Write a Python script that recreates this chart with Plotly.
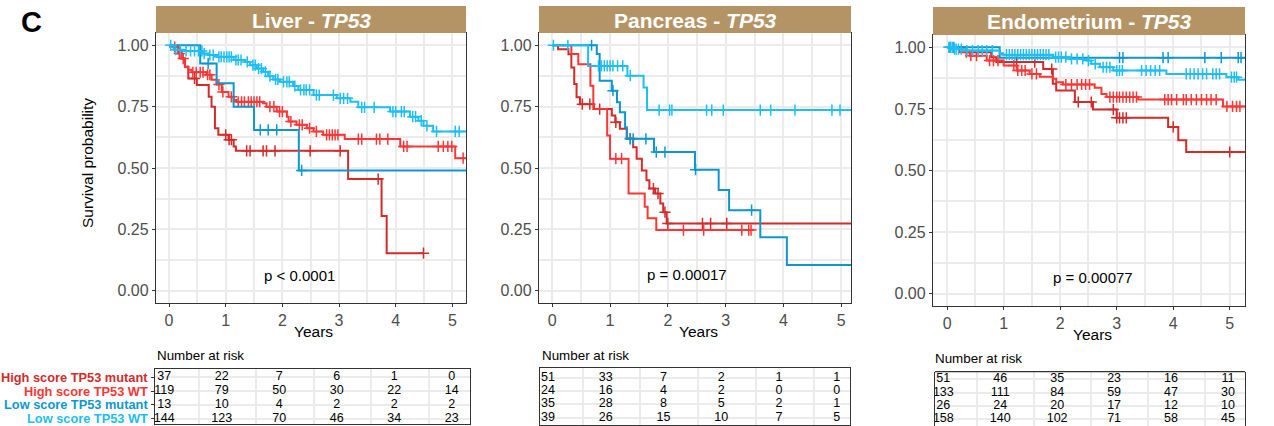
import numpy as np
import plotly.graph_objects as go

W, H = 1274, 426
FONT = "Liberation Sans, Arial, Helvetica, sans-serif"

GROUPS = ["High score TP53 mutant", "High score TP53 WT",
          "Low score TP53 mutant", "Low score TP53 WT"]
COLORS = ["#D12B2B", "#FA3636", "#0E97CE", "#1DBEF4"]
YEARS = [0, 1, 2, 3, 4, 5]
Y_TICKS = [0, 0.25, 0.5, 0.75, 1.0]
Y_TICK_TEXT = ["0.00", "0.25", "0.50", "0.75", "1.00"]
PANELS = ["Liver", "Pancreas", "Endometrium"]
PVALUES = ["p < 0.0001", "p = 0.00017", "p = 0.00077"]

# ---------------- Liver ----------------
LIV_HM_T = [0, 0.08, 0.16, 0.22, 0.28, 0.34, 0.49, 0.70, 0.75, 0.81, 0.87, 1.05, 1.14, 1.18, 3.16, 3.75, 3.84]
LIV_HM_S = [1.0, 0.993, 0.98, 0.946, 0.912, 0.865, 0.838, 0.79, 0.75, 0.662, 0.635, 0.615, 0.588, 0.57, 0.455, 0.304, 0.153]
LIV_HM_C = [0.45, 1.0, 1.06, 1.10, 1.37, 1.43, 1.66, 1.72, 1.87, 2.49, 3.02, 3.69, 4.49]
LIV_HM_END = 4.49

LIV_HW_T = [0, 0.08, 0.16, 0.22, 0.28, 0.34, 0.40, 0.66, 0.75, 0.84, 0.93, 1.05, 1.14, 1.19, 1.66, 1.72, 1.90, 2.08, 2.11, 2.25, 2.43, 2.55, 2.72, 3.10, 4.08, 5.05]
LIV_HW_S = [1.0, 0.993, 0.966, 0.946, 0.912, 0.90, 0.89, 0.88, 0.86, 0.84, 0.81, 0.79, 0.777, 0.77, 0.764, 0.75, 0.73, 0.709, 0.689, 0.676, 0.662, 0.649, 0.635, 0.618, 0.588, 0.54]
LIV_HW_C = [0.1, 0.18, 0.25, 0.42, 0.48, 0.55, 0.6, 0.68, 0.72, 0.88, 0.95, 1.1, 1.22, 1.28, 1.33, 1.4, 1.45, 1.5, 1.55,
            1.6, 1.78, 1.85, 1.95, 2.0, 2.15, 2.3, 2.35, 2.48, 2.6, 2.78, 2.83, 2.88, 2.93, 2.98, 3.34, 3.4, 3.66,
            3.72, 3.86, 4.14, 4.2, 4.75, 4.84, 4.92, 4.99, 5.19]
LIV_HW_END = 5.4

LIV_LM_T = [0, 0.55, 0.84, 1.14, 1.50, 2.29]
LIV_LM_S = [1.0, 0.926, 0.845, 0.75, 0.655, 0.49]
LIV_LM_C = [0.69, 1.61, 1.75, 1.90, 2.34]
LIV_LM_END = 5.4

LIV_LW_T = [0, 0.08, 0.25, 0.60, 0.69, 0.84, 1.14, 1.34, 1.43, 1.55, 1.66, 1.75, 1.84, 1.96, 2.19, 2.28, 2.55, 2.96, 3.20, 3.34, 3.90, 4.25, 4.40, 4.49, 4.66]
LIV_LW_S = [1.0, 0.982, 0.977, 0.966, 0.96, 0.953, 0.94, 0.932, 0.919, 0.905, 0.892, 0.874, 0.861, 0.851, 0.834, 0.818, 0.797, 0.784, 0.77, 0.747, 0.73, 0.709, 0.693, 0.672, 0.649]
LIV_LW_C = [0.03, 0.12, 0.2, 0.3, 0.38, 0.45, 0.52, 0.58, 0.62, 0.72, 0.78, 0.88, 0.92, 0.97, 1.02, 1.06, 1.1, 1.18,
            1.22, 1.27, 1.38, 1.48, 1.52, 1.58, 1.63, 1.7, 1.78, 1.88, 1.92, 2.02, 2.08, 2.12, 2.22, 2.32, 2.38,
            2.42, 2.48, 2.6, 2.65, 2.9, 3.02, 3.08, 3.15, 3.4, 3.45, 3.62, 3.95, 4.0, 4.1, 4.15, 4.3, 4.35, 4.45,
            4.55, 4.72, 5.05, 5.12]
LIV_LW_END = 5.4

# ---------------- Pancreas ----------------
PAN_HM_T = [0, 0.10, 0.28, 0.33, 0.38, 0.42, 0.48, 0.72, 1.03, 1.09, 1.17, 1.29, 1.40, 1.46, 1.55, 1.63, 1.68, 1.78, 1.87, 1.92, 1.98]
PAN_HM_S = [1.0, 0.984, 0.963, 0.909, 0.842, 0.788, 0.76, 0.74, 0.714, 0.686, 0.66, 0.62, 0.585, 0.538, 0.49, 0.45, 0.416, 0.396, 0.355, 0.32, 0.274]
PAN_HM_C = [0.52, 0.65, 0.82, 1.10, 1.35, 1.75, 1.83, 1.95, 2.00, 2.60, 2.74, 3.02]
PAN_HM_END = 5.4

PAN_HW_T = [0, 0.33, 0.45, 0.66, 0.71, 0.95, 1.00, 1.32, 1.60, 1.65, 1.80]
PAN_HW_S = [1.0, 0.964, 0.923, 0.835, 0.74, 0.632, 0.538, 0.396, 0.342, 0.295, 0.247]
PAN_HW_C = [1.10, 1.20, 2.27, 2.62, 3.28, 3.40, 3.44]
PAN_HW_END = 3.44

PAN_LM_T = [0, 0.77, 0.82, 1.03, 1.12, 1.17, 1.26, 1.29, 1.76, 2.47, 2.88, 3.06, 3.60, 4.06]
PAN_LM_S = [1.0, 0.964, 0.855, 0.815, 0.768, 0.727, 0.666, 0.619, 0.565, 0.493, 0.41, 0.328, 0.218, 0.105]
PAN_LM_C = [0.68, 1.05, 1.35, 1.40, 1.62, 1.80, 1.95, 2.48, 3.45]
PAN_LM_END = 5.4

PAN_LW_T = [0, 0.62, 1.30, 1.58, 1.64]
PAN_LW_S = [1.0, 0.916, 0.876, 0.828, 0.736]
PAN_LW_C = [0.02, 0.27, 0.80, 0.85, 0.90, 0.95, 1.00, 1.05, 1.13, 1.22, 1.35, 1.85, 2.03, 2.07, 2.67, 2.76,
            2.96, 3.60, 3.78, 4.20, 4.84, 4.98]
PAN_LW_END = 5.4

# ---------------- Endometrium ----------------
END_HM_T = [0, 0.34, 0.78, 0.87, 1.70, 1.87, 1.93, 2.26, 2.58, 3.00, 3.91, 4.09, 4.23]
END_HM_S = [1.0, 0.98, 0.96, 0.94, 0.912, 0.852, 0.825, 0.778, 0.748, 0.714, 0.677, 0.623, 0.575]
END_HM_C = [1.23, 1.55, 1.85, 2.32, 2.55, 2.94, 3.0, 3.05, 3.11, 3.17, 4.0, 5.0]
END_HM_END = 5.4

END_HW_T = [0, 0.22, 0.40, 0.70, 1.00, 1.23, 1.46, 1.64, 1.87, 1.93, 2.05, 2.61, 2.73, 2.82, 3.38, 4.88]
END_HW_S = [1.0, 0.98, 0.966, 0.946, 0.926, 0.906, 0.892, 0.881, 0.872, 0.858, 0.849, 0.836, 0.811, 0.798, 0.788, 0.76]
END_HW_C = [0.34, 0.42, 0.52, 0.75, 0.82, 0.9, 1.18, 1.25, 1.32, 1.38, 1.5, 1.58, 2.1, 2.2, 2.3, 2.38, 2.45, 2.52,
            2.88, 2.94, 3.0, 3.05, 3.11, 3.17, 3.23, 3.29, 3.35, 3.85, 3.91, 3.97, 4.06, 4.18, 4.23, 4.32, 4.41,
            4.5, 4.59, 4.67, 4.76, 4.95, 5.05, 5.12, 5.18]
END_HW_END = 5.4

END_LM_T = [0, 0.93]
END_LM_S = [1.0, 0.958]
END_LM_C = [0.05, 0.12, 3.05, 3.11, 3.82, 3.91, 4.56, 4.85, 5.15, 5.2]
END_LM_END = 5.4

END_LW_T = [0, 0.10, 0.28, 0.93, 0.99, 1.87, 2.17, 2.46, 2.55, 2.70, 2.94, 3.88, 4.94, 5.15]
END_LW_S = [1.0, 0.993, 0.987, 0.976, 0.97, 0.96, 0.953, 0.946, 0.933, 0.919, 0.906, 0.892, 0.879, 0.868]
END_LW_C = [0.03, 0.06, 0.09, 0.13, 0.16, 0.2, 0.25, 0.35, 0.45, 0.55, 0.62, 0.7, 0.8, 1.05, 1.1, 1.15, 1.2, 1.25,
            1.3, 1.35, 1.4, 1.45, 1.5, 1.55, 1.6, 1.65, 1.7, 1.75, 1.8, 1.92, 1.97, 2.02, 2.1, 2.2, 2.3, 2.4, 2.5,
            2.62, 2.76, 2.82, 2.88, 3.0, 3.05, 3.1, 3.44, 3.52, 3.6, 3.68, 3.76, 4.23, 4.3, 4.37, 4.44, 4.52,
            4.59, 4.7, 4.76, 4.82, 5.03, 5.08, 5.12]
END_LW_END = 5.4

# ---------------- Numbers at risk ----------------
LIV_RISK_HM = [37, 22, 7, 6, 1, 0]
LIV_RISK_HW = [119, 79, 50, 30, 22, 14]
LIV_RISK_LM = [13, 10, 4, 2, 2, 2]
LIV_RISK_LW = [144, 123, 70, 46, 34, 23]
PAN_RISK_HM = [51, 33, 7, 2, 1, 1]
PAN_RISK_HW = [24, 16, 4, 2, 0, 0]
PAN_RISK_LM = [35, 28, 8, 5, 2, 1]
PAN_RISK_LW = [39, 26, 15, 10, 7, 5]
END_RISK_HM = [51, 46, 35, 23, 16, 11]
END_RISK_HW = [133, 111, 84, 59, 47, 30]
END_RISK_LM = [26, 24, 20, 17, 12, 10]
END_RISK_LW = [158, 140, 102, 71, 58, 45]

CURVES = [
    [(LIV_HM_T, LIV_HM_S, LIV_HM_C, LIV_HM_END), (LIV_HW_T, LIV_HW_S, LIV_HW_C, LIV_HW_END),
     (LIV_LM_T, LIV_LM_S, LIV_LM_C, LIV_LM_END), (LIV_LW_T, LIV_LW_S, LIV_LW_C, LIV_LW_END)],
    [(PAN_HM_T, PAN_HM_S, PAN_HM_C, PAN_HM_END), (PAN_HW_T, PAN_HW_S, PAN_HW_C, PAN_HW_END),
     (PAN_LM_T, PAN_LM_S, PAN_LM_C, PAN_LM_END), (PAN_LW_T, PAN_LW_S, PAN_LW_C, PAN_LW_END)],
    [(END_HM_T, END_HM_S, END_HM_C, END_HM_END), (END_HW_T, END_HW_S, END_HW_C, END_HW_END),
     (END_LM_T, END_LM_S, END_LM_C, END_LM_END), (END_LW_T, END_LW_S, END_LW_C, END_LW_END)],
]
RISKS = [
    [LIV_RISK_HM, LIV_RISK_HW, LIV_RISK_LM, LIV_RISK_LW],
    [PAN_RISK_HM, PAN_RISK_HW, PAN_RISK_LM, PAN_RISK_LW],
    [END_RISK_HM, END_RISK_HW, END_RISK_LM, END_RISK_LW],
]

# ---------------- Layout geometry (pixels) ----------------
PLOT_BOX = [(156, 466, 33, 303), (539, 851, 33, 303), (933, 1245, 35, 306)]
STRIP_BOX = [(156, 466, 6, 33), (539, 851, 6, 33), (933, 1245, 7, 35)]
X_RANGES = [(-0.23, 5.24), (-0.23, 5.17), (-0.25, 5.27)]
Y_RANGE = (-0.05, 1.05)
TABLE_BOX = [(155, 470, 369, 424.3), (540, 850, 368.3, 425), (935, 1245, 371.7, 426)]
TABLE_XR = [(-0.16, 5.318), (-0.139, 5.23), (-0.146, 5.30)]
TABLE_YR = [(0.594, 4.60), (0.45, 4.70), (0.47, 4.576)]
NAR_POS = [(155, 355), (540, 355), (933, 358)]
PVAL_XY = [(2.31, 0.061), (2.34, 0.065), (2.58, 0.067)]
YEARS_X = [313, 698, 1092]


def fx(p):
    return p / W


def fy(p):
    return 1 - p / H


fig = go.Figure()
layout = dict(width=W, height=H, margin=dict(l=0, r=0, t=0, b=0),
              paper_bgcolor="white", plot_bgcolor="white", showlegend=False,
              font=dict(family=FONT, color="black"))
shapes = []
annotations = []

GRID = "#EBEBEB"
GW = 1.8
TICKFONT = dict(size=16, color="#4D4D4D", family=FONT)

for i in range(3):
    ax = i + 1
    xa, ya = f"x{ax}", f"y{ax}"
    x0, x1, y0, y1 = PLOT_BOX[i]
    layout[f"xaxis{ax}"] = dict(
        domain=[fx(x0), fx(x1)], range=list(X_RANGES[i]), anchor=ya,
        tickvals=YEARS, ticktext=[str(v) for v in YEARS],
        ticks="outside", ticklen=3, tickwidth=1.1, tickcolor="#333333",
        tickfont=TICKFONT,
        showgrid=True, gridcolor=GRID, gridwidth=GW,
        minor=dict(tickvals=[v + 0.5 for v in YEARS[:-1]], showgrid=True, gridcolor=GRID, gridwidth=GW, ticks=""),
        showline=True, mirror=True, linecolor="#333333", linewidth=1.3, zeroline=False)
    layout[f"yaxis{ax}"] = dict(
        domain=[fy(y1), fy(y0)], range=list(Y_RANGE), anchor=xa,
        tickvals=Y_TICKS, ticktext=Y_TICK_TEXT,
        ticks="outside", ticklen=3, tickwidth=1.1, tickcolor="#333333",
        tickfont=TICKFONT,
        showgrid=True, gridcolor=GRID, gridwidth=GW,
        minor=dict(tickvals=[0.125, 0.375, 0.625, 0.875], showgrid=True, gridcolor=GRID, gridwidth=GW, ticks=""),
        showline=True, mirror=True, linecolor="#333333", linewidth=1.3, zeroline=False)

    for g in range(4):
        t, s, c, end = CURVES[i][g]
        col = COLORS[g]
        fig.add_trace(go.Scatter(x=list(t) + [end], y=list(s) + [s[-1]], mode="lines",
                                 line=dict(color=col, width=2, shape="hv"),
                                 xaxis=xa, yaxis=ya, hoverinfo="skip"))
        ta = np.array(t)
        sa = np.array(s)
        ca = np.array(c)
        idx = np.searchsorted(ta, ca, side="right") - 1
        fig.add_trace(go.Scatter(x=ca, y=sa[idx], mode="markers",
                                 marker=dict(symbol="cross-thin", size=8, color=col,
                                             line=dict(width=1.5, color=col)),
                                 xaxis=xa, yaxis=ya, hoverinfo="skip"))

    # strip
    sx0, sx1, sy0, sy1 = STRIP_BOX[i]
    shapes.append(dict(type="rect", xref="paper", yref="paper", x0=fx(sx0), x1=fx(sx1),
                       y0=fy(sy1), y1=fy(sy0), fillcolor="#B49465", line=dict(width=0), layer="above"))
    annotations.append(dict(xref="paper", yref="paper", x=fx((sx0 + sx1) / 2), y=fy((sy0 + sy1) / 2 + 1),
                            text=f"<b>{PANELS[i]} - <i>TP53</i></b>", showarrow=False,
                            xanchor="center", yanchor="middle",
                            font=dict(size=21, color="white", family=FONT)))
    # p-value
    px_, py_ = PVAL_XY[i]
    annotations.append(dict(xref=xa, yref=ya, x=px_, y=py_, text=PVALUES[i], showarrow=False,
                            xanchor="center", yanchor="middle", font=dict(size=15, color="black", family=FONT)))
    # Years label
    annotations.append(dict(xref="paper", yref="paper", x=fx(YEARS_X[i]), y=fy(331 + (y1 - 303)),
                            text="Years", showarrow=False, xanchor="center", yanchor="middle",
                            font=dict(size=15.5, color="black", family=FONT)))

    # risk table
    tx = i + 4
    txa, tya = f"x{tx}", f"y{tx}"
    bx0, bx1, by0, by1 = TABLE_BOX[i]
    layout[f"xaxis{tx}"] = dict(
        domain=[fx(bx0), fx(bx1)], range=list(TABLE_XR[i]), anchor=tya,
        tickvals=[v + 0.6 for v in YEARS[:-1]], showticklabels=False, ticks="",
        showgrid=True, gridcolor=GRID, gridwidth=GW, zeroline=False,
        showline=(i < 2), mirror=True, linecolor="#333333", linewidth=1.3)
    layout[f"yaxis{tx}"] = dict(
        domain=[max(0, fy(by1)), fy(by0)], range=list(TABLE_YR[i]), anchor=txa,
        tickvals=[1, 2, 3, 4], showticklabels=False,
        ticks="outside" if i == 0 else "", ticklen=3, tickwidth=1.1, tickcolor="#333333",
        showgrid=True, gridcolor=GRID, gridwidth=GW, zeroline=False,
        showline=True, mirror=True, linecolor="#333333", linewidth=1.3)
    if i == 2:
        shapes.append(dict(type="line", xref="paper", yref="paper", x0=fx(bx0), x1=fx(bx1),
                           y0=fy(by0), y1=fy(by0), line=dict(color="#333333", width=1.3)))
    for g in range(4):
        row = 4 - g
        fig.add_trace(go.Scatter(x=YEARS, y=[row] * len(YEARS), mode="text",
                                 text=[str(v) for v in RISKS[i][g]],
                                 textfont=dict(size=12.5, color="black", family=FONT),
                                 xaxis=txa, yaxis=tya, hoverinfo="skip", cliponaxis=True))
    nx, ny = NAR_POS[i]
    annotations.append(dict(xref="paper", yref="paper", x=fx(nx), y=fy(ny), text="Number at risk",
                            showarrow=False, xanchor="left", yanchor="middle",
                            font=dict(size=13.4, color="black", family=FONT)))

# group labels next to first risk table
for g in range(4):
    annotations.append(dict(xref="paper", yref="y4", x=fx(150), y=4 - g,
                            text=f"<b>{GROUPS[g]}</b>", showarrow=False,
                            xanchor="right", yanchor="middle",
                            font=dict(size=12.8, color=COLORS[g], family=FONT)))

# y-axis title & panel letter
annotations.append(dict(xref="paper", yref="paper", x=fx(87), y=fy(163), text="Survival probability",
                        textangle=-90, showarrow=False, xanchor="center", yanchor="middle",
                        font=dict(size=15.5, color="black", family=FONT)))
annotations.append(dict(xref="paper", yref="paper", x=fx(31), y=fy(22), text="<b>C</b>",
                        showarrow=False, xanchor="center", yanchor="middle",
                        font=dict(size=29, color="black", family=FONT)))

layout["shapes"] = shapes
layout["annotations"] = annotations
fig.update_layout(**layout)
fig.write_html("out.html")
